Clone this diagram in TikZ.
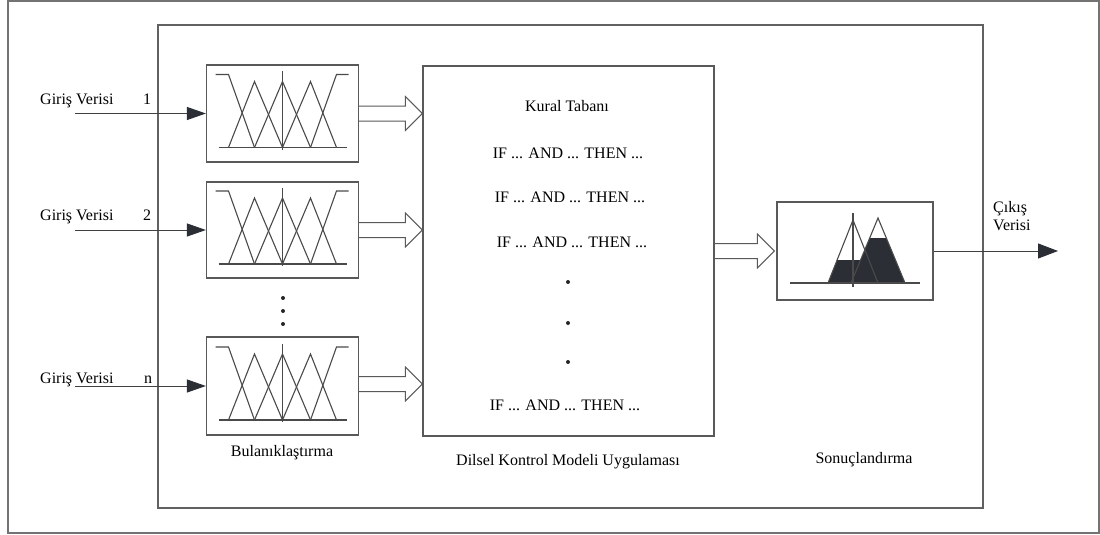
\documentclass[tikz,border=0pt]{standalone}
\usepackage{fontspec}
\setmainfont{Liberation Serif}
\newfontfamily\lserif{Liberation Serif}
\usetikzlibrary{arrows.meta,calc}
\definecolor{tipc}{HTML}{2B2E35}
\definecolor{linec}{HTML}{4A4A4A}
\begin{document}
\begin{tikzpicture}[x=1pt,y=-1pt,
  outerframe/.style={draw=black!55,line width=1.6pt},
  mainframe/.style={draw=black!62,line width=1.3pt},
  box/.style={draw=black!65,line width=1.2pt,fill=white,inner sep=0pt},
  lbl/.style={font=\lserif\fontsize{16}{18}\selectfont,inner sep=0pt,text=black},
  inarrow/.style={draw=black!75,line width=1pt,-{Triangle[length=19pt,width=13pt,color=tipc]}},
  outarrow/.style={draw=black!75,line width=1pt,-{Triangle[length=20pt,width=15pt,color=tipc]}},
  fz/.style={draw=linec,line width=1.1pt},
  dotmark/.style={circle,fill=black!85,inner sep=0pt,minimum size=4pt},
  hollow/.style={draw=black!65,line width=1pt,
    to path={let \p1=(\tikztostart), \p2=(\tikztotarget) in
      (\x1,\y1+7.5pt) -- (\x2-17pt,\y1+7.5pt) -- (\x2-17pt,\y1+17pt) -- (\x2,\y1)
      -- (\x2-17pt,\y1-17pt) -- (\x2-17pt,\y1-7.5pt) -- (\x1,\y1-7.5pt)}},
  fuzzy/.pic={
    \draw[fz] (-64,34) -- (64,34);
    \draw[fz] (-67,-39) -- (-54,-39) -- (-28,34);
    \draw[fz] (-54,34) -- (-28,-32) -- (0,34);
    \draw[fz] (-28,34) -- (0,-32) -- (28,34);
    \draw[fz] (0,34) -- (28,-32) -- (54,34);
    \draw[fz] (28,34) -- (54,-39) -- (66,-39);
    \draw[fz] (0,-42) -- (0,36);
  },
  defuzzy/.pic={
    \fill[tipc] (-27,32) -- (-17.9,9) -- (5.6,9) -- (14.7,-13) -- (31.3,-13) -- (50,32) -- cycle;
    \draw[fz] (-27,32) -- (-2,-31) -- (23,32);
    \draw[fz] (-4,32) -- (23,-33) -- (50,32);
    \draw[fz] (-65,32) -- (65,32);
    \draw[fz] (-2,-38) -- (-2,36);
  }
]
\useasboundingbox (0,0) rectangle (1100,535);
\draw[outerframe] (8,1) rectangle (1099,533);
\draw[mainframe] (158,25) rectangle (983,508);

% fuzzifier boxes
\node[box,minimum width=152pt,minimum height=97pt] (f1) at (282.5,113.5) {};
\node[box,minimum width=152pt,minimum height=96pt] (f2) at (282.5,230) {};
\node[box,minimum width=152pt,minimum height=98pt] (f3) at (282.5,386) {};
\pic at (f1.center) {fuzzy};
\pic at (f2.center) {fuzzy};
\pic at (f3.center) {fuzzy};

% rule base box
\node[box,minimum width=291pt,minimum height=370pt] (rule) at (568.5,251) {};
\node[lbl] (kt) at (567,106) {Kural Tabanı};
\node[lbl] (r1) at (568,153) {IF ... AND ... THEN ...};
\node[lbl] (r2) at (570,197) {IF ... AND ... THEN ...};
\node[lbl] (r3) at (572,242) {IF ... AND ... THEN ...};
\node[dotmark] (rd1) at (568,282) {};
\node[dotmark] (rd2) at (568,323) {};
\node[dotmark] (rd3) at (568,362) {};
\node[lbl] (rn) at (565,405) {IF ... AND ... THEN ...};

% defuzzifier box
\node[box,minimum width=156pt,minimum height=98pt] (d) at (855,251) {};
\pic at (d.center) {defuzzy};

% vertical dots between fuzzifiers
\node[dotmark] (vd1) at (283,298) {};
\node[dotmark] (vd2) at (283,311) {};
\node[dotmark] (vd3) at (283,324) {};

% input labels and arrows
\node[lbl,anchor=base west] (g1) at (40,104) {Giriş Verisi};
\node[lbl,anchor=base] (n1) at (147,104) {1};
\node[lbl,anchor=base west] (g2) at (40,220) {Giriş Verisi};
\node[lbl,anchor=base] (n2) at (147,220) {2};
\node[lbl,anchor=base west] (g3) at (40,383) {Giriş Verisi};
\node[lbl,anchor=base] (n3) at (148,383) {n};
\coordinate (in1) at (75,113.5);
\coordinate (in2) at (75,230);
\coordinate (in3) at (75,386);
\draw[inarrow] (in1) -- (in1 -| f1.west);
\draw[inarrow] (in2) -- (in2 -| f2.west);
\draw[inarrow] (in3) -- (in3 -| f3.west);

% hollow arrows
\draw[hollow] (f1.east) to (f1.east -| rule.west);
\draw[hollow] (f2.east) to (f2.east -| rule.west);
\draw[hollow] ($(f3.east)+(0,-2)$) to ($(f3.east -| rule.west)+(0,-2)$);
\draw[hollow] (rule.east |- d.west) to ($(d.west)+(-2,0)$);

% output
\coordinate (out) at (1058,251);
\draw[outarrow] (d.east) -- (out);
\node[lbl,anchor=base west] (c1) at (993,212) {Çıkış};
\node[lbl,anchor=base west] (c2) at (993,230) {Verisi};

% bottom labels
\node[lbl] (bl) at (282,453) {Bulanıklaştırma};
\node[lbl] (dk) at (568,462) {Dilsel Kontrol Modeli Uygulaması};
\node[lbl] (sn) at (864,460) {Sonuçlandırma};
\end{tikzpicture}
\end{document}
